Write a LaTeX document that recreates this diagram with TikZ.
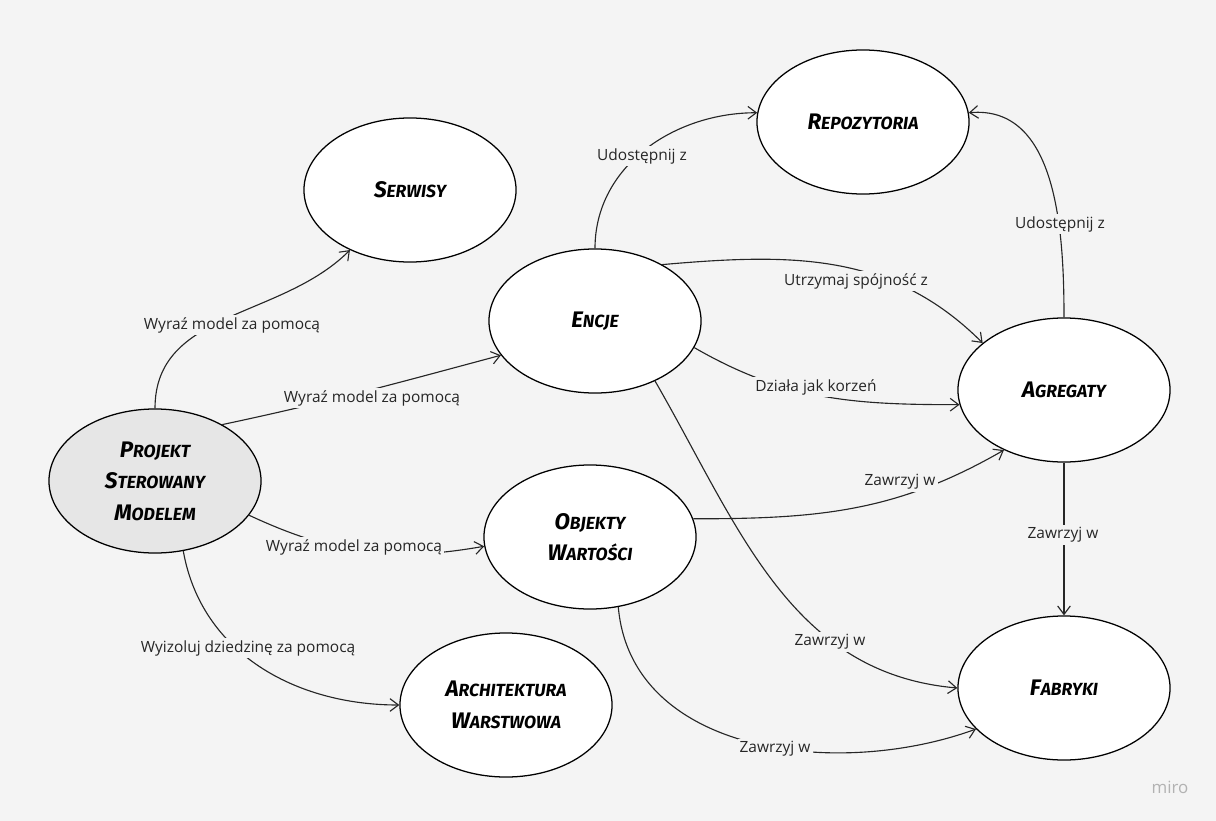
\documentclass[tikz,border=0pt]{standalone}
\usepackage{fontspec}
\setmainfont{Open Sans}
\newfontfamily\nf{Fira Sans}
\usetikzlibrary{shapes.geometric,arrows.meta}
\newcommand\mysc[2]{{\fontsize{16}{22}\selectfont #1}{\fontsize{12.5}{22}\selectfont #2}}
\definecolor{bg}{HTML}{F4F4F4}
\definecolor{pf}{HTML}{E6E6E6}
\begin{document}
\begin{tikzpicture}[x=0.025cm,y=-0.025cm,
  ell/.style={ellipse,draw=black,line width=0.9pt,fill=white,minimum width=5.3cm,minimum height=3.6cm,align=center,font=\nf\bfseries\itshape\fontsize{13}{22.5}\selectfont,inner sep=0pt},
  lbl/.style={font=\fontsize{11}{13}\selectfont,fill=bg,inner sep=1.5pt,text=black!85},
  arr/.style={-{Straight Barb[length=6pt,width=9pt]},line width=0.8pt,draw=black!85}]
\fill[bg] (0,0) rectangle (1216,821);
\useasboundingbox (0,0) rectangle (1216,821);
\node[ell] (S) at (410,190) {\mysc{S}{ERWISY}};
\node[ell] (R) at (863,122) {\mysc{R}{EPOZYTORIA}};
\node[ell] (E) at (595,321) {\mysc{E}{NCJE}};
\node[ell] (G) at (1064,390) {\mysc{A}{GREGATY}};
\node[ell,fill=pf] (P) at (155,481) {\mysc{P}{ROJEKT}\\\mysc{S}{TEROWANY}\\\mysc{M}{ODELEM}};
\node[ell] (O) at (590,537) {\mysc{O}{BJEKTY}\\\mysc{W}{ARTOŚCI}};
\node[ell] (A) at (506,705) {\mysc{A}{RCHITEKTURA}\\\mysc{W}{ARSTWOWA}};
\node[ell] (F) at (1064,688) {\mysc{F}{ABRYKI}};

\draw[arr] (P.north) to[out=90,in=225] (S.225);
\draw[arr] (P.40) to[out=12,in=195] (E.200);
\draw[arr] (P.-20) to[out=-25,in=190] (O.185);
\draw[arr] (P.-68) to[out=-80,in=180] (A.180);
\draw[arr] (E.north) to[out=90,in=180] (R.175);
\draw[arr] (E.40) to[out=5,in=135] (G.150);
\draw[arr] (E.-15) to[out=-30,in=180] (G.188);
\draw[arr] (E.-45) to[out=-60,in=175] (F.180);
\draw[arr] (O.10) to[out=0,in=-150] (G.-135);
\draw[arr] (O.-68) to[out=-85,in=200] (F.-155);
\draw[arr] (G.north) to[out=90,in=5] (R.5);
\draw[arr] (G.south) -- (F.north);

\node[lbl] (l1) at (232,325) {Wyraź model za pomocą};
\node[lbl] (l2) at (372,398) {Wyraź model za pomocą};
\node[lbl] (l3) at (354,547) {Wyraź model za pomocą};
\node[lbl] (l4) at (248,648) {Wyizoluj dziedzinę za pomocą};
\node[lbl] (l5) at (642,156) {Udostępnij z};
\node[lbl] (l6) at (856,281) {Utrzymaj spójność z};
\node[lbl] (l7) at (816,387) {Działa jak korzeń};
\node[lbl] (l8) at (830,642) {Zawrzyj w};
\node[lbl] (l9) at (900,482) {Zawrzyj w};
\node[lbl] (l10) at (775,749) {Zawrzyj w};
\node[lbl] (l11) at (1060,224) {Udostępnij z};
\node[lbl] (l12) at (1063,535) {Zawrzyj w};
\node[font=\fontsize{12}{14}\selectfont,text=black!30] (m) at (1170,787) {miro};
\end{tikzpicture}
\end{document}
